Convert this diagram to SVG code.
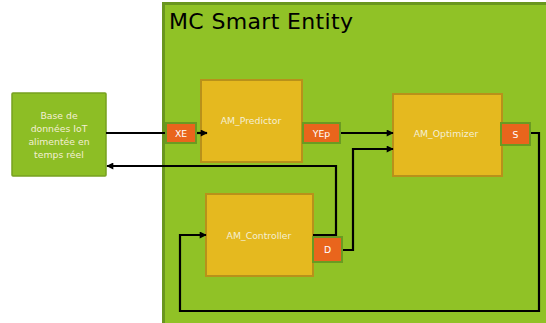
<svg xmlns="http://www.w3.org/2000/svg" width="546" height="323" viewBox="0 0 546 323">
<style>
.box{fill:#e5b91f;stroke:#b8911a;stroke-width:2}
.port{fill:#e9651c;stroke:#6b9a22;stroke-width:2}
.lbl{font-family:"DejaVu Sans",sans-serif;font-size:9.3px;fill:#f4efd4;text-anchor:middle}
.plbl{font-family:"DejaVu Sans",sans-serif;font-size:9.3px;fill:#ffffff;text-anchor:middle}
.ln{fill:none;stroke:#000;stroke-width:2.2}
</style>
<defs>
<marker id="ah" viewBox="0 0 10 10" refX="9" refY="5" markerWidth="8" markerHeight="7" orient="auto" markerUnits="userSpaceOnUse">
<path d="M0,0 L10,5 L0,10 z" fill="#000"/>
</marker>
</defs>
<rect width="546" height="323" fill="#fff"/>
<g id="entity">
<rect x="163.5" y="3.5" width="400" height="340" fill="#90c226" stroke="#6a961f" stroke-width="3"/>
<text x="169" y="28.5" font-family="DejaVu Sans, sans-serif" font-size="22" fill="#000" textLength="184" lengthAdjust="spacing">MC Smart Entity</text>
</g>
<g id="db">
<rect x="12" y="93" width="94" height="83" fill="#8dbe25" stroke="#77a11f" stroke-width="1.5" rx="1"/>
<text class="lbl" x="59" y="119">Base de</text>
<text class="lbl" x="59" y="131.5">données IoT</text>
<text class="lbl" x="59" y="145">alimentée en</text>
<text class="lbl" x="59" y="158">temps réel</text>
</g>
<g id="predictor">
<rect class="box" x="201" y="80" width="101" height="82"/>
<text class="lbl" x="251" y="124">AM_Predictor</text>
</g>
<g id="optimizer">
<rect class="box" x="393" y="94" width="109" height="82"/>
<text class="lbl" x="446" y="137">AM_Optimizer</text>
</g>
<g id="controller">
<rect class="box" x="206" y="194" width="107" height="82"/>
<text class="lbl" x="259" y="239">AM_Controller</text>
</g>
<g id="connectors">
<path class="ln" d="M106,133 H165"/>
<path class="ln" d="M196,133 H207" marker-end="url(#ah)"/>
<path class="ln" d="M340,133 H393" marker-end="url(#ah)"/>
<path class="ln" d="M313,235 H336 V166 H107" marker-end="url(#ah)"/>
<path class="ln" d="M342,250 H353 V149 H393" marker-end="url(#ah)"/>
<path class="ln" d="M530,133 H539 V311 H180 V235 H206" marker-end="url(#ah)"/>
</g>
<g id="port-xe">
<rect class="port" x="166" y="123" width="30" height="20"/>
<text class="plbl" x="181" y="136.5">XE</text>
</g>
<g id="port-yep">
<rect class="port" x="303" y="123" width="37" height="20"/>
<text class="plbl" x="321.5" y="136.5">YEp</text>
</g>
<g id="port-s">
<rect class="port" x="501" y="123" width="29" height="22"/>
<text class="plbl" x="515.5" y="137.5">S</text>
</g>
<g id="port-d">
<rect class="port" x="313" y="237" width="29" height="25"/>
<text class="plbl" x="327.5" y="253">D</text>
</g>
</svg>
